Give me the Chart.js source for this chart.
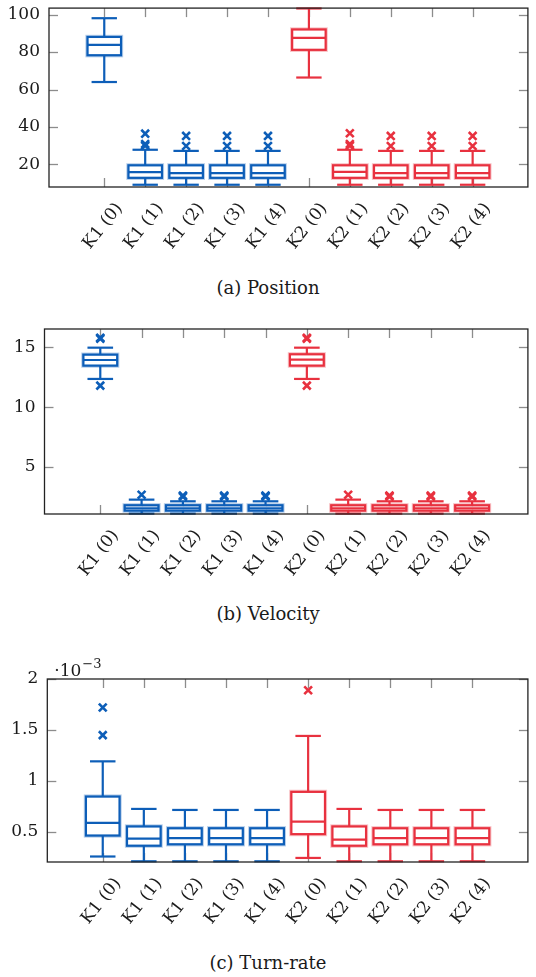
<!DOCTYPE html>
<html>
<head>
<meta charset="utf-8">
<script src="https://cdn.jsdelivr.net/npm/chart.js@4.4.0/dist/chart.umd.min.js"></script>
<style>
body { margin:0; background:#fff; width:536px; height:977px; position:relative; overflow:hidden; font-family:"DejaVu Serif", serif; }
.panel { position:absolute; left:0; width:536px; }
.caption { position:absolute; left:0; width:536px; text-align:center; font-size:18px; line-height:24px; color:#1a1a1a; }
</style>
</head>
<body>
<div class="panel" style="top:0px"><canvas id="posChart" width="536" height="262"></canvas></div>
<div class="caption" style="top:276px">(a) Position</div>
<div class="panel" style="top:300px"><canvas id="velChart" width="536" height="289"></canvas></div>
<div class="caption" style="top:602px">(b) Velocity</div>
<div class="panel" style="top:640px"><canvas id="turnChart" width="536" height="297"></canvas></div>
<div class="caption" style="top:951px">(c) Turn-rate</div>
<script>
var categories = ['K1 (0)', 'K1 (1)', 'K1 (2)', 'K1 (3)', 'K1 (4)', 'K2 (0)', 'K2 (1)', 'K2 (2)', 'K2 (3)', 'K2 (4)'];

// each box: [lower whisker, Q1, median, Q3, upper whisker]
var positionBoxes = [
	[64.0, 78.3, 83.8, 88.1, 98.1],
	[9.1, 12.8, 15.9, 19.5, 27.8],
	[9.1, 12.8, 15.3, 19.5, 27.2],
	[9.1, 12.8, 15.3, 19.5, 27.2],
	[9.1, 12.8, 15.3, 19.5, 27.2],
	[66.4, 81.2, 87.6, 92.1, 103.3],
	[9.1, 12.8, 16.0, 19.5, 27.8],
	[9.1, 12.8, 15.3, 19.5, 27.2],
	[9.1, 12.8, 15.3, 19.5, 27.2],
	[9.1, 12.8, 15.3, 19.5, 27.2]
];
var positionOutliers = [[], [36.4, 30.9, 30.0], [35.2, 29.8], [35.2, 29.8], [35.2, 29.8],
	[], [36.6, 30.9, 30.0], [35.2, 29.8], [35.2, 29.8], [35.2, 29.8]];
var positionTicks = [20, 40, 60, 80, 100];

var velocityBoxes = [
	[12.36, 13.47, 13.94, 14.39, 14.97],
	[1.11, 1.36, 1.56, 1.81, 2.28],
	[1.11, 1.36, 1.56, 1.81, 2.14],
	[1.11, 1.36, 1.56, 1.81, 2.14],
	[1.11, 1.36, 1.56, 1.81, 2.14],
	[12.36, 13.47, 13.97, 14.42, 14.97],
	[1.11, 1.36, 1.56, 1.81, 2.28],
	[1.11, 1.36, 1.56, 1.81, 2.14],
	[1.11, 1.36, 1.56, 1.81, 2.14],
	[1.11, 1.36, 1.56, 1.81, 2.14]
];
var velocityOutliers = [[15.72, 15.8, 11.8], [2.69], [2.62, 2.52], [2.62, 2.52], [2.62, 2.52],
	[15.72, 15.8, 11.8], [2.69], [2.62, 2.52], [2.62, 2.52], [2.62, 2.52]];
var velocityTicks = [5, 10, 15];

// turn-rate values in units of 10^-3
var turnRateBoxes = [
	[0.254, 0.46, 0.585, 0.844, 1.19],
	[0.207, 0.36, 0.43, 0.55, 0.722],
	[0.207, 0.374, 0.435, 0.532, 0.712],
	[0.207, 0.374, 0.435, 0.532, 0.712],
	[0.207, 0.374, 0.435, 0.532, 0.712],
	[0.24, 0.474, 0.598, 0.89, 1.44],
	[0.207, 0.36, 0.42, 0.55, 0.722],
	[0.207, 0.374, 0.435, 0.532, 0.712],
	[0.207, 0.374, 0.435, 0.532, 0.712],
	[0.207, 0.374, 0.435, 0.532, 0.712]
];
var turnRateOutliers = [[1.72, 1.448], [], [], [], [], [1.89], [], [], [], []];
var turnRateTicks = [0.5, 1, 1.5, 2];

var blue = '#0D5EB8';
var red = '#E8313F';
var textColor = '#1a1a1a';
var fontFamily = '"DejaVu Serif", serif';

function colorFor(i) {
	return categories[i].indexOf('K1') === 0 ? blue : red;
}

function line(ctx, x1, y1, x2, y2) {
	ctx.beginPath();
	ctx.moveTo(x1, y1);
	ctx.lineTo(x2, y2);
	ctx.stroke();
}

var boxPlotPlugin = {
	id: 'boxPlot',
	beforeDatasetsDraw: function(chart, args, opts) {
		var ctx = chart.ctx, xs = chart.scales.x, ys = chart.scales.y, a = chart.chartArea;
		var tl = 9;

		// inward tick marks on all four sides
		ctx.save();
		ctx.strokeStyle = '#8c8c8c';
		ctx.lineWidth = 1.3;
		ys.ticks.forEach(function(t) {
			var py = Math.round(ys.getPixelForValue(t.value)) + 0.5;
			line(ctx, a.left, py, a.left + tl, py);
			line(ctx, a.right - tl, py, a.right, py);
		});
		xs.ticks.forEach(function(t) {
			var px = Math.round(xs.getPixelForValue(t.value)) + 0.5;
			line(ctx, px, a.bottom, px, a.bottom - tl);
			line(ctx, px, a.top, px, a.top + tl);
		});
		ctx.restore();

		var halfBox = xs.getPixelForValue(0.41) - xs.getPixelForValue(0);
		var halfCap = xs.getPixelForValue(0.31) - xs.getPixelForValue(0);

		opts.boxes.forEach(function(b, i) {
			var color = colorFor(i);
			var cx = xs.getPixelForValue(i);
			var pLow = ys.getPixelForValue(b[0]);
			var pQ1 = ys.getPixelForValue(b[1]);
			var pMed = ys.getPixelForValue(b[2]);
			var pQ3 = ys.getPixelForValue(b[3]);
			var pHigh = ys.getPixelForValue(b[4]);
			ctx.save();
			ctx.strokeStyle = color;
			ctx.lineWidth = 2.2;
			line(ctx, cx, pQ1, cx, pLow);
			line(ctx, cx, pQ3, cx, pHigh);
			line(ctx, cx - halfCap, pLow, cx + halfCap, pLow);
			line(ctx, cx - halfCap, pHigh, cx + halfCap, pHigh);
			// soft halo round the box, then the box itself
			ctx.globalAlpha = 0.3;
			ctx.lineWidth = 4.2;
			ctx.strokeRect(cx - halfBox, pQ3, 2 * halfBox, pQ1 - pQ3);
			line(ctx, cx - halfBox, pMed, cx + halfBox, pMed);
			ctx.globalAlpha = 1;
			ctx.lineWidth = 2.2;
			ctx.fillStyle = '#fff';
			ctx.fillRect(cx - halfBox + 1, pQ3 + 1, 2 * halfBox - 2, pQ1 - pQ3 - 2);
			ctx.strokeRect(cx - halfBox, pQ3, 2 * halfBox, pQ1 - pQ3);
			line(ctx, cx - halfBox, pMed, cx + halfBox, pMed);
			ctx.restore();
		});
	},
	afterDatasetsDraw: function(chart, args, opts) {
		var ctx = chart.ctx, a = chart.chartArea;
		ctx.save();
		ctx.strokeStyle = '#222';
		ctx.lineWidth = 1.3;
		ctx.strokeRect(a.left, a.top, a.right - a.left, a.bottom - a.top);
		if (opts.multiplier) {
			ctx.fillStyle = textColor;
			ctx.textBaseline = 'alphabetic';
			ctx.font = '17px ' + fontFamily;
			ctx.fillText('\u00b710', a.left + 7, a.top - 3);
			var w = ctx.measureText('\u00b710').width;
			ctx.font = '13px ' + fontFamily;
			ctx.fillText('\u22123', a.left + 7 + w + 1, a.top - 11);
		}
		ctx.restore();
	}
};

function outlierPoints(outliers, prefix) {
	var pts = [];
	outliers.forEach(function(list, i) {
		if (categories[i].indexOf(prefix) !== 0) return;
		list.forEach(function(v) { pts.push({x: i, y: v}); });
	});
	return pts;
}

function makeChart(id, boxes, outliers, yMin, yMax, yTicks, axisWidth, padTop, multiplier) {
	return new Chart(document.getElementById(id), {
		type: 'scatter',
		data: {
			datasets: [
				{ data: outlierPoints(outliers, 'K1'), borderColor: blue, backgroundColor: blue,
					pointStyle: 'crossRot', pointRadius: 5.5, borderWidth: 2.6 },
				{ data: outlierPoints(outliers, 'K2'), borderColor: red, backgroundColor: red,
					pointStyle: 'crossRot', pointRadius: 5.5, borderWidth: 2.6 }
			]
		},
		options: {
			responsive: false,
			animation: false,
			events: [],
			layout: { padding: { top: padTop, right: 3, left: 0, bottom: 0 } },
			plugins: {
				legend: { display: false },
				tooltip: { enabled: false },
				boxPlot: { boxes: boxes, multiplier: multiplier }
			},
			scales: {
				x: {
					type: 'linear',
					min: -1.35,
					max: 10.35,
					grid: { display: false, drawTicks: false },
					border: { display: false },
					afterBuildTicks: function(s) {
						s.ticks = categories.map(function(c, i) { return { value: i }; });
					},
					afterFit: function(s) {
						s.height = 75;
						s.paddingLeft = 0;
						s.paddingRight = 0;
					},
					ticks: {
						autoSkip: false,
						minRotation: 52,
						maxRotation: 52,
						padding: 12,
						labelOffset: 15,
						color: textColor,
						font: { family: fontFamily, size: 17 },
						callback: function(v) { return categories[v]; }
					}
				},
				y: {
					min: yMin,
					max: yMax,
					grid: { display: false, drawTicks: false },
					border: { display: false },
					afterBuildTicks: function(s) {
						s.ticks = yTicks.map(function(v) { return { value: v }; });
					},
					afterFit: function(s) {
						s.width = axisWidth;
						s.paddingTop = 0;
						s.paddingBottom = 0;
					},
					ticks: {
						padding: 9,
						color: textColor,
						font: { family: fontFamily, size: 17 },
						callback: function(v) { return String(v); }
					}
				}
			}
		},
		plugins: [boxPlotPlugin]
	});
}

makeChart('posChart', positionBoxes, positionOutliers, 7.9, 103.5, positionTicks, 49, 3, false);
makeChart('velChart', velocityBoxes, velocityOutliers, 1.08, 16.53, velocityTicks, 44.5, 29, false);
makeChart('turnChart', turnRateBoxes, turnRateOutliers, 0.2, 2.0, turnRateTicks, 47.3, 39, true);
</script>
</body>
</html>
